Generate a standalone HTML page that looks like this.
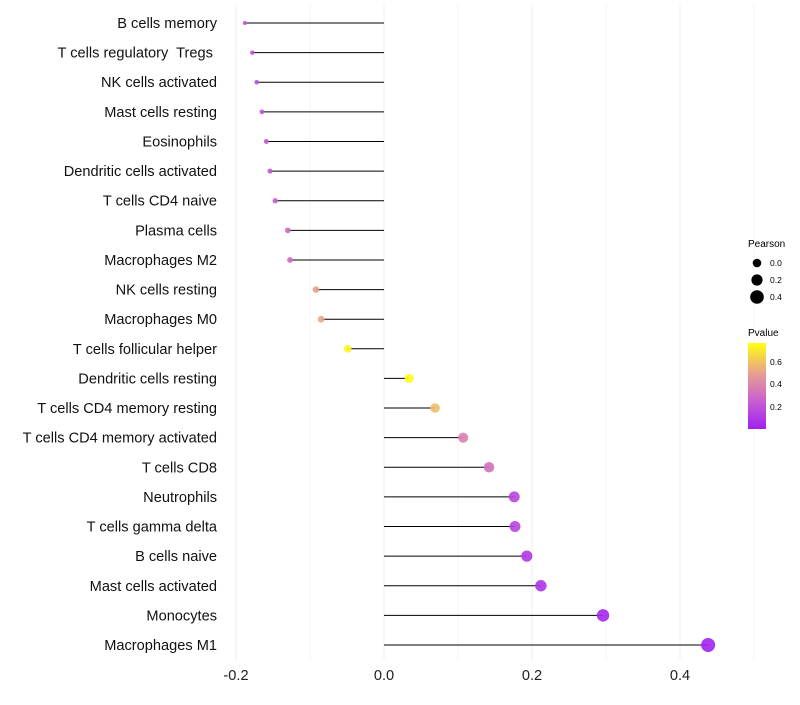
<!DOCTYPE html>
<html><head><meta charset="utf-8"><style>
body{margin:0;background:#fff;font-family:"Liberation Sans",sans-serif}
</style></head><body>
<svg id="chart" width="800" height="700" xmlns="http://www.w3.org/2000/svg">
<defs><linearGradient id="pg" x1="0" y1="1" x2="0" y2="0">
<stop offset="0" stop-color="#a020f0"/><stop offset="0.33" stop-color="#c860d0"/><stop offset="0.65" stop-color="#e8a090"/><stop offset="1" stop-color="#ffff10"/></linearGradient></defs>
<g id="grid"></g><g id="marks"></g><g id="labels"></g>
<g font-size="10">
<text x="748" y="247">Pearson</text>
<circle cx="757" cy="263" r="4.3" fill="#000"/><text x="770" y="266" font-size="8.5">0.0</text>
<circle cx="757" cy="280" r="5.6" fill="#000"/><text x="770" y="283" font-size="8.5">0.2</text>
<circle cx="757" cy="297" r="6.8" fill="#000"/><text x="770" y="300" font-size="8.5">0.4</text>
<text x="748" y="336">Pvalue</text>
<rect x="748" y="343" width="18" height="86" fill="url(#pg)"/>
<text x="770" y="365" font-size="8.5">0.6</text><text x="770" y="387" font-size="8.5">0.4</text><text x="770" y="410" font-size="8.5">0.2</text>
</g>
</svg>
<script>
const categories=["B cells memory","T cells regulatory  Tregs ","NK cells activated","Mast cells resting","Eosinophils","Dendritic cells activated","T cells CD4 naive","Plasma cells","Macrophages M2","NK cells resting","Macrophages M0","T cells follicular helper","Dendritic cells resting","T cells CD4 memory resting","T cells CD4 memory activated","T cells CD8","Neutrophils","T cells gamma delta","B cells naive","Mast cells activated","Monocytes","Macrophages M1"];
const pearson=[-0.188,-0.178,-0.172,-0.165,-0.159,-0.154,-0.147,-0.130,-0.127,-0.092,-0.085,-0.049,0.034,0.069,0.107,0.142,0.176,0.177,0.193,0.212,0.296,0.438];
const pvalue=[0.2,0.18,0.17,0.2,0.22,0.22,0.25,0.3,0.3,0.5,0.52,0.74,0.77,0.58,0.38,0.32,0.15,0.15,0.1,0.08,0.03,0.01];
const xTicks=[-0.2,0,0.2,0.4];
const xTickLabels=["-0.2","0.0","0.2","0.4"];
const NS="http://www.w3.org/2000/svg";
const xs=v=>384+v*740;
const ys=i=>23+i*(622/21);
const rs=v=>Math.sqrt(Math.max(4,17.6+71.6*v));
function col(p){const st=[[0,[160,32,240]],[0.25,[200,96,208]],[0.5,[232,160,144]],[0.77,[255,255,16]]];
for(let i=1;i<st.length;i++){if(p<=st[i][0]||i==st.length-1){const a=st[i-1],b=st[i];const t=Math.min(1,Math.max(0,(p-a[0])/(b[0]-a[0])));return`rgb(${a[1].map((c,k)=>Math.round(c+(b[1][k]-c)*t)).join(",")})`;}}}
function mk(t,a,p){const e=document.createElementNS(NS,t);for(const k in a)e.setAttribute(k,a[k]);p.appendChild(e);return e;}
const grid=document.getElementById('grid'),marks=document.getElementById('marks'),labels=document.getElementById('labels');
for(let v=-0.2;v<=0.501;v+=0.1){const g=mk('line',{x1:xs(v),x2:xs(v),y1:5,y2:660,stroke:'#f0f0f0','stroke-width':Math.abs(Math.round(v*10))%2==0?1.1:0.6},grid);

}
xTicks.forEach((v,i)=>{const t=mk('text',{x:xs(v),y:680,'text-anchor':'middle','font-size':14.6,fill:'#222'},labels);t.textContent=xTickLabels[i];

});
categories.forEach((c,i)=>{const y=ys(i);
const t=mk('text',{x:217,y:y+5,'text-anchor':'end','font-size':14.6,fill:'#111'},labels);t.setAttribute('xml:space','preserve');t.style.whiteSpace='pre';t.textContent=c;


const l=mk('line',{x1:xs(0),x2:xs(pearson[i]),y1:y,y2:y,stroke:'#000','stroke-width':1},marks);


const d=mk('circle',{cx:xs(pearson[i]),cy:y,r:rs(pearson[i]),fill:col(pvalue[i]),'fill-opacity':0.9},marks);

});
</script>
</body></html>
